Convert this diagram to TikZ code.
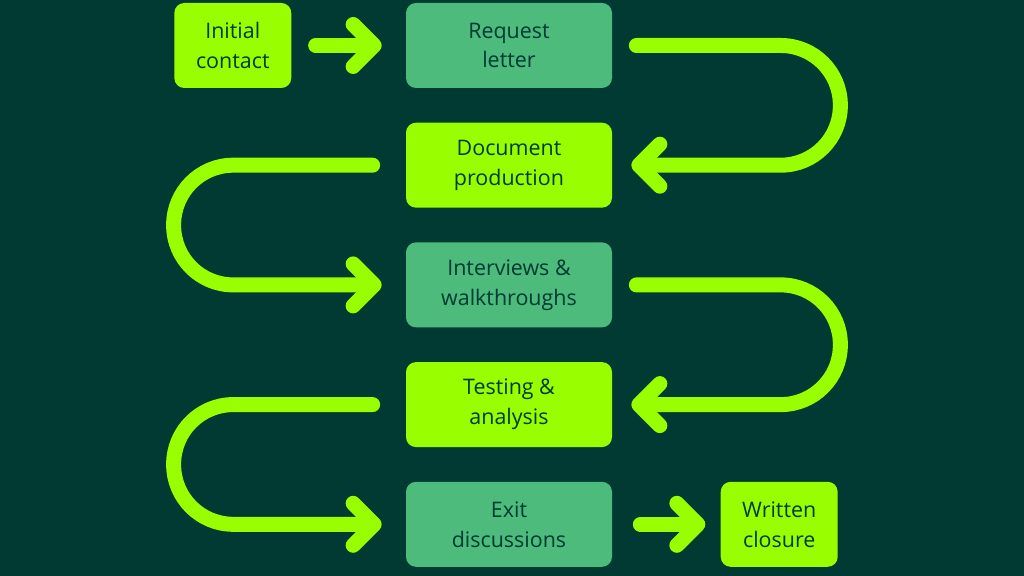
\documentclass[tikz,border=0pt]{standalone}
\usepackage{fontspec}
\setmainfont{Open Sans}
\usetikzlibrary{arrows.meta, positioning}
\definecolor{bgdark}{RGB}{0,58,50}
\definecolor{lime}{RGB}{153,255,0}
\definecolor{midgreen}{RGB}{76,187,123}

\tikzset{
  stepbox/.style={rounded corners=0.2cm, minimum width=4.12cm, minimum height=1.7cm,
    inner sep=0pt, align=center, text=bgdark, font=\fontsize{12.2}{17}\selectfont},
  smallbox/.style={stepbox, minimum width=2.34cm},
  flow/.style={draw=lime, line width=0.3cm, line cap=round, line join=round,
    -{Straight Barb[round, length=0.42cm, width=0.84cm]}}
}

\begin{document}
\begin{tikzpicture}
        % --- Fond ---
        \fill[bgdark] (0,0) rectangle (20.48,11.52);
        \useasboundingbox (0,0) rectangle (20.48,11.52);

        % --- Colonne centrale ---
        \node[stepbox, fill=midgreen] (req) at (10.18,10.61) {Request\\letter};
        \node[stepbox, fill=lime, below=0.68cm of req] (doc) {Document\\production};
        \node[stepbox, fill=midgreen, below=0.68cm of doc] (inter) {Interviews \&\\walkthroughs};
        \node[stepbox, fill=lime, below=0.68cm of inter] (test) {Testing \&\\analysis};
        \node[stepbox, fill=midgreen, below=0.68cm of test] (exit) {Exit\\discussions};

        % --- Début et fin ---
        \node[smallbox, fill=lime, left=2.28cm of req] (init) {Initial\\contact};
        \node[smallbox, fill=lime, right=2.16cm of exit] (closure) {Written\\closure};

        % --- Flèches ---
        \draw[flow, shorten <=0.48cm, shorten >=0.48cm] (init.east) -- (req.west);
        \draw[flow, rounded corners=1.19cm]
            ([xshift=0.48cm]req.east) -- ++(4.08,0) |- ([xshift=0.38cm]doc.east);
        \draw[flow, rounded corners=1.19cm]
            ([xshift=-0.66cm]doc.west) -- ++(-3.98,0) |- ([xshift=-0.48cm]inter.west);
        \draw[flow, rounded corners=1.19cm]
            ([xshift=0.48cm]inter.east) -- ++(4.08,0) |- ([xshift=0.38cm]test.east);
        \draw[flow, rounded corners=1.19cm]
            ([xshift=-0.66cm]test.west) -- ++(-3.98,0) |- ([xshift=-0.48cm]exit.west);
        \draw[flow, shorten <=0.56cm, shorten >=0.3cm] (exit.east) -- (closure.west);
\end{tikzpicture}
\end{document}
